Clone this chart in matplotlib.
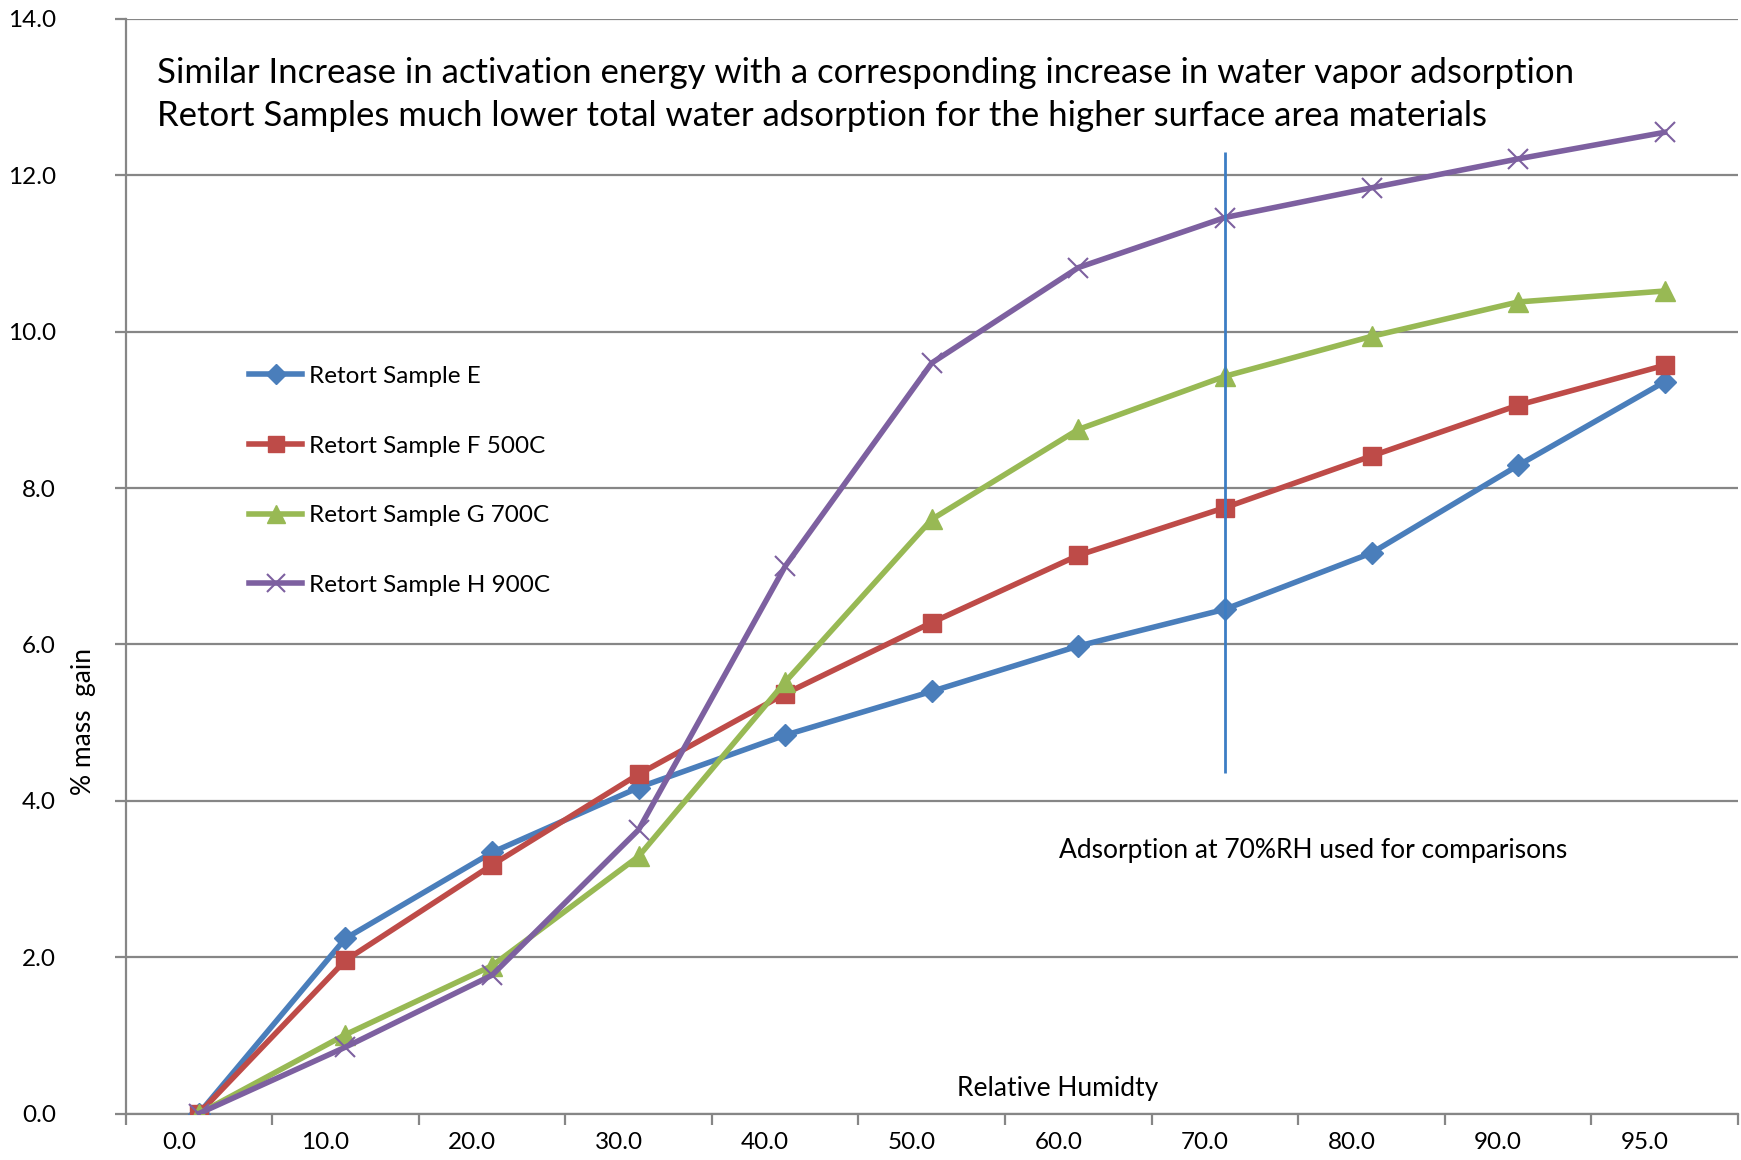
import matplotlib
matplotlib.use('Agg')
import matplotlib.pyplot as plt
import matplotlib.transforms as mtransforms

plt.rcParams['font.family'] = ['Lato', 'DejaVu Sans']

categories = ['0.0', '10.0', '20.0', '30.0', '40.0', '50.0', '60.0', '70.0', '80.0', '90.0', '95.0']
sample_e = [0.0, 2.24, 3.34, 4.17, 4.84, 5.40, 5.98, 6.45, 7.17, 8.29, 9.36]
sample_f = [0.0, 1.96, 3.18, 4.34, 5.37, 6.28, 7.14, 7.75, 8.41, 9.06, 9.57]
sample_g = [0.0, 1.01, 1.89, 3.29, 5.52, 7.60, 8.75, 9.43, 9.94, 10.38, 10.52]
sample_h = [0.0, 0.85, 1.77, 3.63, 7.00, 9.60, 10.82, 11.46, 11.84, 12.21, 12.55]
labels = ['Retort Sample E', 'Retort Sample F 500C', 'Retort Sample G 700C', 'Retort Sample H 900C']

# marker line for the 70%RH comparison
ref_category = 7
ref_low, ref_high = 4.35, 12.3

fig = plt.figure(figsize=(17.41, 11.60), dpi=100)
ax = fig.add_axes([0.0721, 0.040, 0.9262, 0.9437])

x = list(range(len(categories)))
grid_color = '#868686'
for v in range(0, 15, 2):
    ax.axhline(v, color=grid_color, lw=1.6, zorder=1)

ax.plot(x, sample_e, color='#4A7EBB', lw=4, marker='D', ms=11, label=labels[0], zorder=3)
ax.plot(x, sample_f, color='#BE4B48', lw=4, marker='s', ms=13, label=labels[1], zorder=3)
ax.plot(x, sample_g, color='#98B954', lw=4, marker='^', ms=14, label=labels[2], zorder=3)
ax.plot(x, sample_h, color='#7D60A0', lw=4, marker='x', ms=14, mew=1.5, label=labels[3], zorder=3)

ax.vlines(ref_category, ref_low, ref_high, color='#3C7DC4', lw=2, zorder=4)

ax.set_xlim(-0.5, len(categories) - 0.5)
ax.set_ylim(0, 14)

ax.set_xticks([i - 0.5 for i in range(len(categories) + 1)])
ax.set_xticklabels([])
ax.set_xticks(x, minor=True)
ax.set_xticklabels(categories, minor=True, fontsize=17.5)
ax.tick_params(axis='x', which='major', length=8, width=1.6, color=grid_color, direction='out')
ax.tick_params(axis='x', which='minor', length=0, pad=13)
offset = mtransforms.ScaledTranslation(-20 / 100, 0, fig.dpi_scale_trans)
for lab in ax.get_xticklabels(minor=True):
    lab.set_transform(lab.get_transform() + offset)

ax.set_yticks(range(0, 15, 2))
ax.set_yticklabels(['%.1f' % v for v in range(0, 15, 2)], fontsize=17.5)
ax.tick_params(axis='y', length=8, width=1.6, color=grid_color, direction='out', pad=42)

for side in ['top', 'right']:
    ax.spines[side].set_visible(False)
ax.spines['left'].set_color(grid_color)
ax.spines['bottom'].set_color(grid_color)
ax.spines['left'].set_linewidth(1.6)
ax.spines['bottom'].set_linewidth(1.6)

ax.text(0.0195, 0.965, 'Similar Increase in activation energy with a corresponding increase in water vapor adsorption\n'
        'Retort Samples much lower total water adsorption for the higher surface area materials',
        transform=ax.transAxes, fontsize=25, va='top', ha='left', linespacing=1.4)
ax.text(7.6, 3.37, 'Adsorption at 70%RH used for comparisons', fontsize=19, ha='center', va='center')
ax.text(5.86, 0.32, 'Relative Humidty', fontsize=19, ha='center', va='center')
fig.text(0.048, 0.378, '% mass  gain', rotation=90, fontsize=19, ha='center', va='center')

ax.legend(loc='upper left', bbox_to_anchor=(0.063, 0.703), frameon=False, fontsize=17.5,
          labelspacing=2.0, handlelength=2.2, handletextpad=0.25, markerscale=0.9)

fig.savefig('out.png', dpi=100)
